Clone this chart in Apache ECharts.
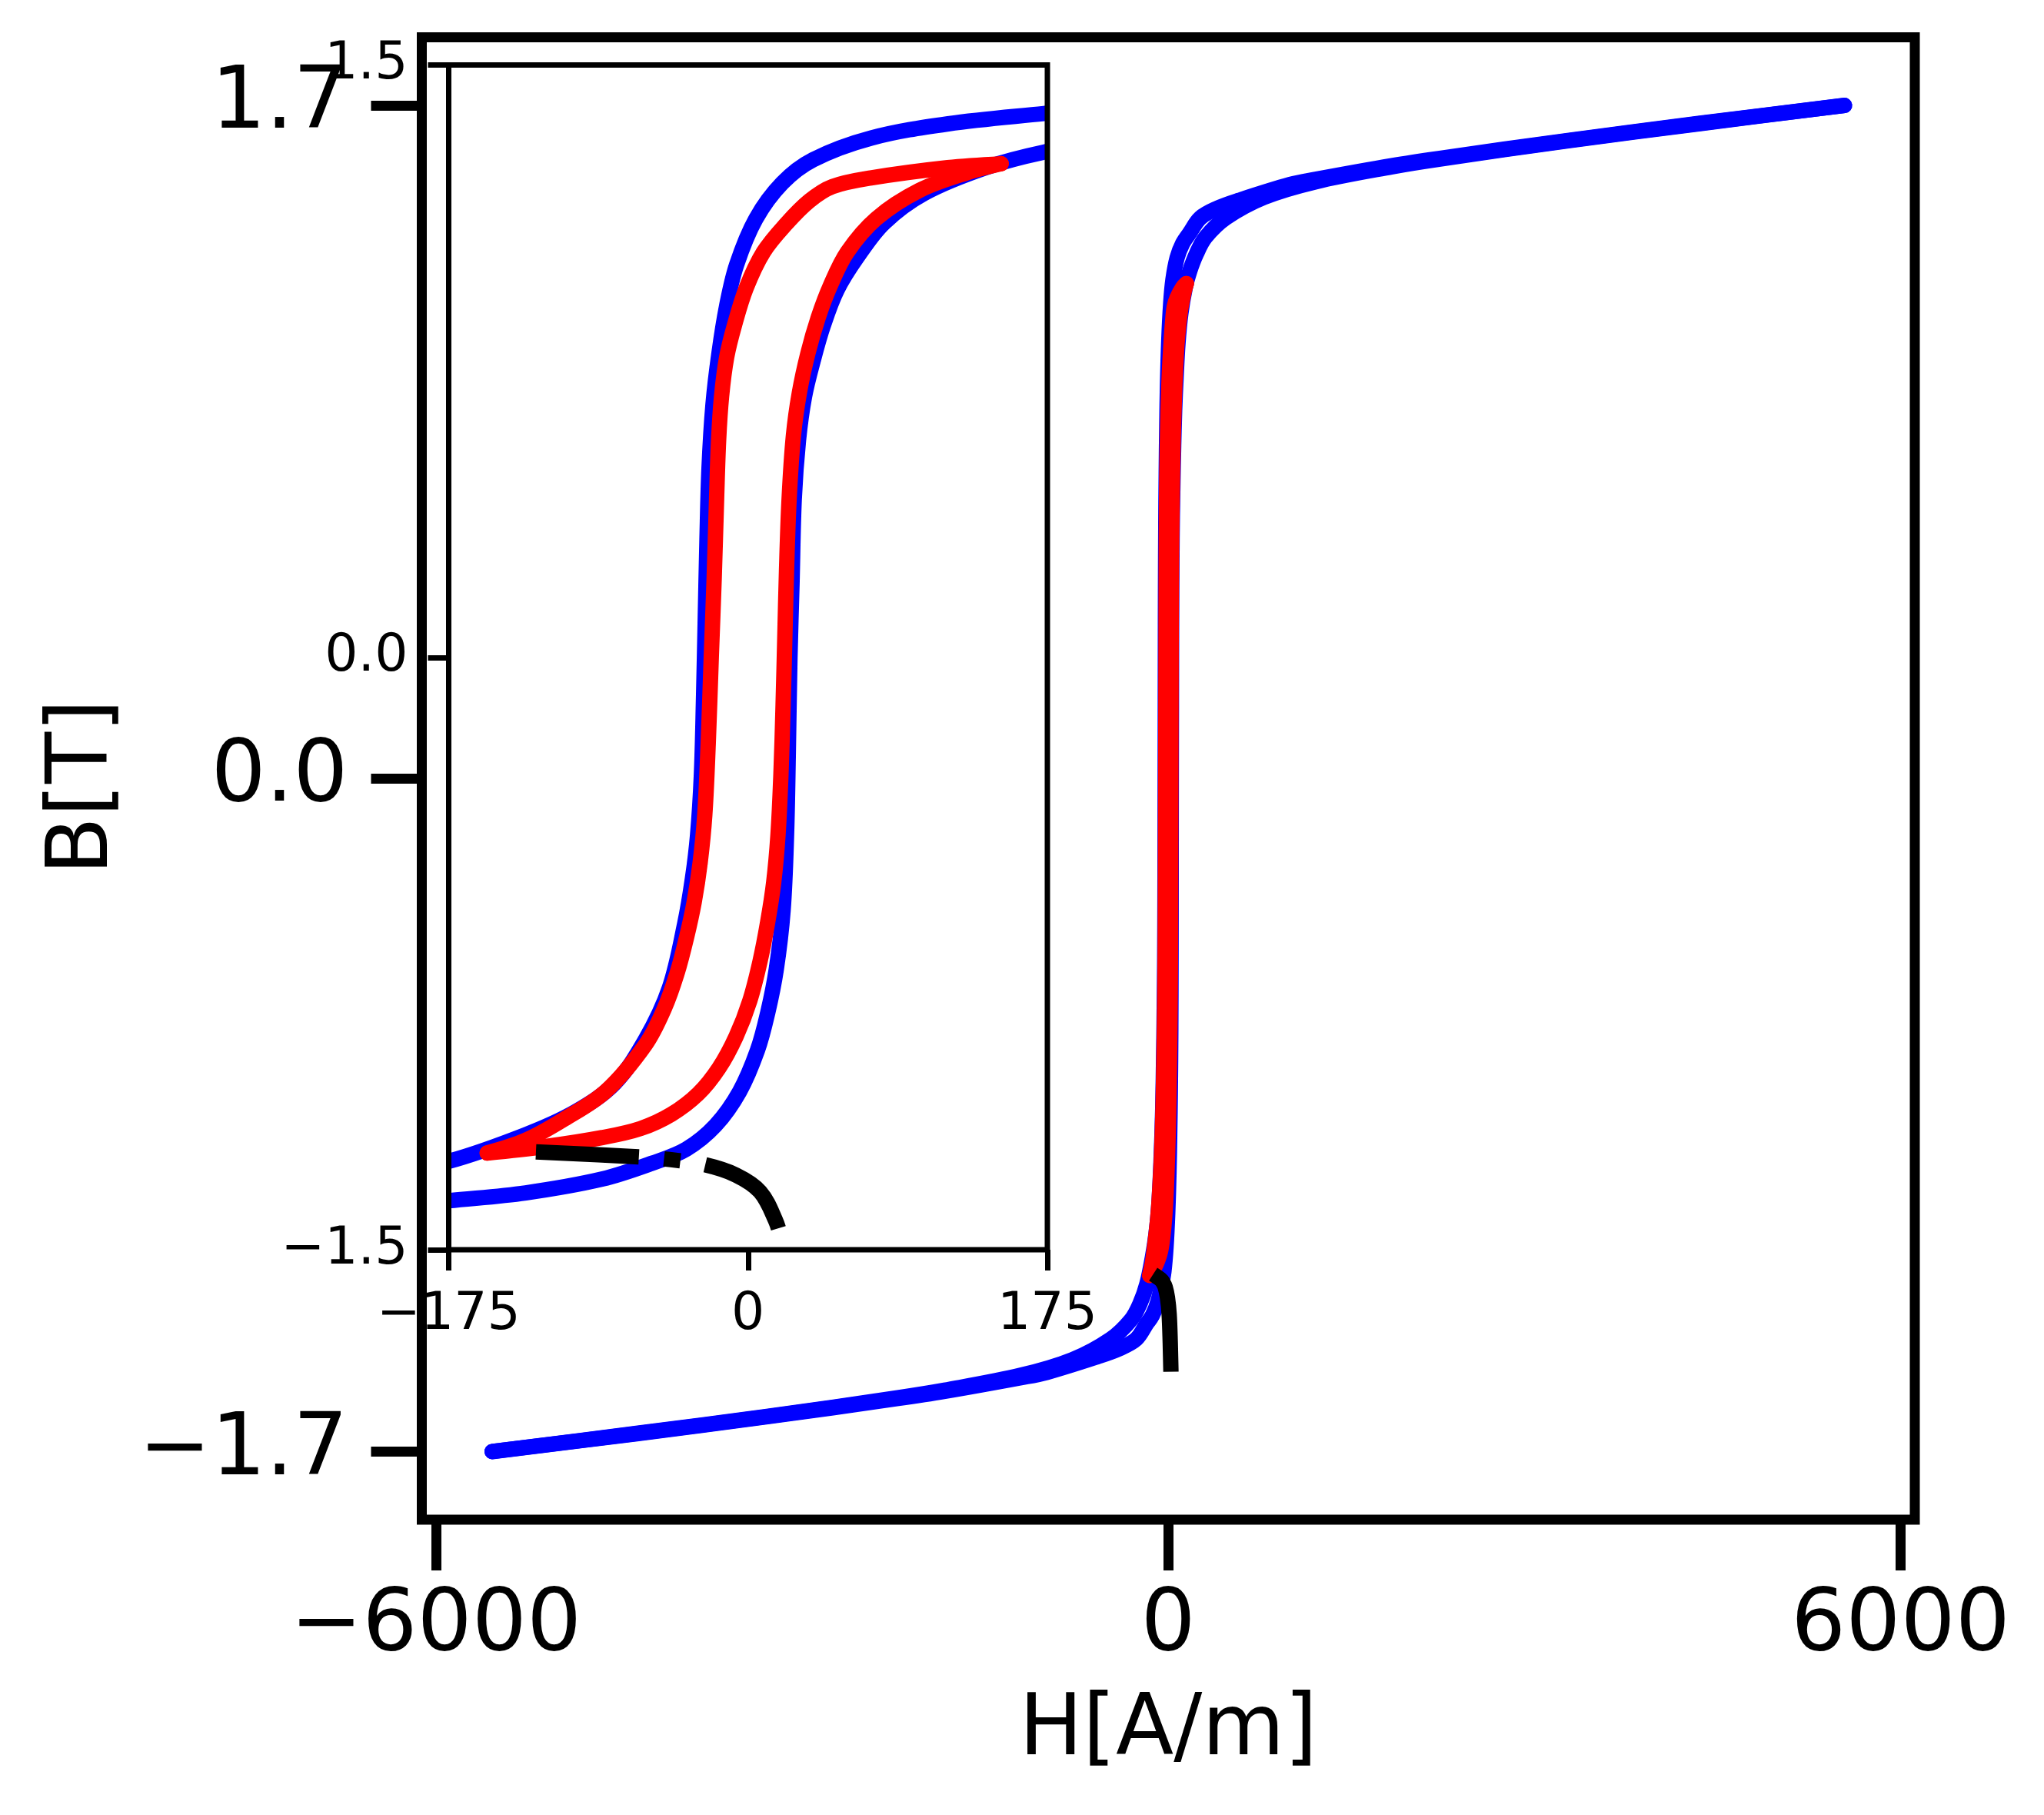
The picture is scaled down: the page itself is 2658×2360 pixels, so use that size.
<!DOCTYPE html>
<html>
<head>
<meta charset="utf-8">
<title>B-H hysteresis</title>
<script src="https://cdn.jsdelivr.net/npm/echarts@6/dist/echarts.min.js"></script>
<style>
html, body { margin: 0; padding: 0; background: #fff; }
#main { width: 2658px; height: 2360px; }
</style>
</head>
<body>
<div id="main"></div>
<script>
// major loop, field going down from +Hmax (upper branch), [H, B]
var blueDown = [
  [5540, 1.700], [4356, 1.655], [3286, 1.612], [2215, 1.566], [1833, 1.548],
  [1200, 1.513], [996, 1.500], [577, 1.460], [400, 1.440], [263, 1.416],
  [173, 1.377], [117, 1.351], [72, 1.315], [38, 1.260], [20, 1.201],
  [4.5, 1.110], [-6.7, 0.994], [-12.5, 0.890], [-17, 0.770], [-20.5, 0.640],
  [-22.8, 0.480], [-24, 0.300], [-25, 0.100], [-26, -0.100], [-27.3, -0.300],
  [-29.5, -0.450], [-32.5, -0.560], [-37, -0.674], [-46, -0.837], [-60, -0.968],
  [-78, -1.079], [-101, -1.151], [-130.1, -1.209], [-175, -1.276], [-230, -1.325],
  [-305, -1.367], [-472, -1.416], [-786, -1.468], [-1205, -1.507], [-1833, -1.545],
  [-2215, -1.564], [-3286, -1.611], [-4356, -1.654], [-5540, -1.700]
];
// major loop, field going up from -Hmax (lower branch)
var blueUp = [
  [-5540, -1.700], [-4356, -1.655], [-3286, -1.612], [-2215, -1.566], [-1833, -1.548],
  [-1200, -1.513], [-996, -1.500], [-577, -1.460], [-400, -1.440], [-263, -1.416],
  [-175, -1.376], [-130, -1.356], [-85.2, -1.321], [-56.1, -1.281], [-36, -1.245],
  [-19, -1.185], [-5, -1.100], [5.5, -0.995], [11.5, -0.900], [16.5, -0.790],
  [20.5, -0.640], [22.5, -0.450], [23.5, -0.250], [24.5, 0.0], [25.7, 0.186],
  [27, 0.400], [29.5, 0.550], [33, 0.660], [38, 0.750], [44, 0.840],
  [52, 0.930], [63.8, 1.013], [79.5, 1.100], [103, 1.175], [139, 1.240],
  [172.7, 1.279], [230, 1.325], [305, 1.367], [472, 1.416], [786, 1.468],
  [1205, 1.507], [1833, 1.545], [2215, 1.564], [3286, 1.611], [4356, 1.654],
  [5540, 1.700]
];
// minor loop
var redDown = [
  [148, 1.250], [116.7, 1.240], [71.8, 1.214], [49.3, 1.192], [35.9, 1.156],
  [22.4, 1.098], [9, 1.026], [-1.1, 0.935], [-8, 0.840], [-12.5, 0.760],
  [-15.5, 0.660], [-17.2, 0.550], [-18.4, 0.400], [-19.8, 0.200], [-21.5, 0.0],
  [-23.3, -0.220], [-25.3, -0.400], [-28, -0.520], [-31.5, -0.620], [-36, -0.710],
  [-41.5, -0.800], [-49, -0.890], [-60, -0.981], [-83, -1.098], [-107.7, -1.170],
  [-130.1, -1.223], [-152.5, -1.255]
];
var redUp = [
  [-152.5, -1.255], [-118.9, -1.239], [-85.2, -1.216], [-62.8, -1.193], [-44.8, -1.157],
  [-29.1, -1.105], [-17, -1.040], [-7, -0.960], [1, -0.870], [7, -0.770],
  [11.5, -0.670], [15, -0.570], [17.5, -0.450], [19.2, -0.300], [20.5, -0.120],
  [21.5, 0.050], [22.5, 0.220], [24, 0.400], [26.5, 0.560], [30, 0.670],
  [35, 0.770], [41, 0.860], [48, 0.940], [58, 1.026], [75, 1.111],
  [100, 1.182], [127.9, 1.227], [148, 1.250]
];
// dash-dot reversal path
var blackPath = [
  [-124, -1.252], [-64, -1.265], [-45, -1.272], [-25, -1.285], [-7, -1.311],
  [7, -1.353], [16, -1.425], [21, -1.490], [25, -1.518], [60, -1.522],
  [100, -1.523], [141, -1.524]
];

var mainXTicks = [-6000, 0, 6000];
var mainXLabels = ['\u22126000', '0', '6000'];
var mainYTicks = [-1.7, 0, 1.7];
var mainYLabels = ['\u22121.7', '0.0', '1.7'];
var insetXTicks = [-175, 0, 175];
var insetXLabels = ['\u2212175', '0', '175'];
var insetYTicks = [-1.5, 0, 1.5];
var insetYLabels = ['\u22121.5', '0.0', '1.5'];

var FONT = 'DejaVu Sans';
var LW = 20;

// inset box in pixels and its data range
var INSET = { left: 583.5, top: 84.5, width: 778.5, height: 1540.5 };
var INSET_X = [-175, 175];
var INSET_Y = [-1.5, 1.5];
// ECharts grows the clip rect by half the line width, so the inset curves
// live on a hidden grid shrunk by that much with the same scale
var padX = LW / 2 * (INSET_X[1] - INSET_X[0]) / INSET.width;
var padY = LW / 2 * (INSET_Y[1] - INSET_Y[0]) / INSET.height;

function pick(ticks, labels) {
  return function (v) {
    for (var i = 0; i < ticks.length; i++) {
      if (Math.abs(ticks[i] - v) < 1e-6) return labels[i];
    }
    return '';
  };
}

function axis(o) {
  return {
    type: 'value',
    gridIndex: o.grid,
    min: o.min,
    max: o.max,
    name: o.name || '',
    nameLocation: 'middle',
    nameGap: o.nameGap || 0,
    nameTextStyle: { fontFamily: FONT, fontSize: 110, color: '#000', padding: o.namePad || 0 },
    axisLine: { show: false, onZero: false },
    splitLine: { show: false },
    axisTick: {
      show: true,
      customValues: o.ticks,
      length: o.tickLen,
      lineStyle: { color: '#000', width: o.tickW }
    },
    axisLabel: {
      show: true,
      customValues: o.ticks,
      margin: o.margin,
      fontFamily: FONT,
      fontSize: o.fontSize,
      color: '#000',
      formatter: pick(o.ticks, o.labels)
    }
  };
}

function hiddenAxis(grid, range, pad) {
  return { type: 'value', gridIndex: grid, min: range[0] + pad, max: range[1] - pad, show: false,
    axisLine: { onZero: false }, splitLine: { show: false } };
}

function line(data, color, ax, z, dashed) {
  return {
    type: 'line',
    xAxisIndex: ax,
    yAxisIndex: ax,
    data: data,
    showSymbol: false,
    symbol: 'none',
    smooth: 0.35,
    z: z,
    lineStyle: {
      color: color,
      width: LW,
      type: dashed ? [134, 33, 21, 33] : 'solid',
      cap: dashed ? 'butt' : 'round',
      join: 'round'
    }
  };
}

var myChart = echarts.init(document.getElementById('main'));

myChart.setOption({
  animation: false,
  backgroundColor: '#fff',
  grid: [
    { left: 548.5, top: 48.5, width: 1941.5, height: 1927.5, show: true,
      borderColor: '#000', borderWidth: 13, z: 20 },
    { left: INSET.left, top: INSET.top, width: INSET.width, height: INSET.height, show: true,
      borderColor: '#000', borderWidth: 7, z: 20 },
    { left: INSET.left + LW / 2, top: INSET.top + LW / 2,
      width: INSET.width - LW, height: INSET.height - LW, show: false }
  ],
  xAxis: [
    axis({ grid: 0, min: -6116, max: 6116, ticks: mainXTicks, labels: mainXLabels,
      tickLen: 66, tickW: 13, margin: 84, fontSize: 112, name: 'H[A/m]', nameGap: 221 }),
    axis({ grid: 1, min: INSET_X[0], max: INSET_X[1], ticks: insetXTicks, labels: insetXLabels,
      tickLen: 27, tickW: 7, margin: 51, fontSize: 68 }),
    hiddenAxis(2, INSET_X, padX)
  ],
  yAxis: [
    axis({ grid: 0, min: -1.872, max: 1.872, ticks: mainYTicks, labels: mainYLabels,
      tickLen: 66, tickW: 13, margin: 96, fontSize: 112, name: 'B[T]', nameGap: 383,
      namePad: [0, 22, 0, 0] }),
    axis({ grid: 1, min: INSET_Y[0], max: INSET_Y[1], ticks: insetYTicks, labels: insetYLabels,
      tickLen: 27, tickW: 7, margin: 53, fontSize: 68 }),
    hiddenAxis(2, INSET_Y, padY)
  ],
  series: [
    line(blueDown, '#0000ff', 0, 2, false),
    line(blueUp, '#0000ff', 0, 2, false),
    line(redDown, '#ff0000', 0, 3, false),
    line(redUp, '#ff0000', 0, 3, false),
    line(blackPath, '#000000', 0, 4, true),
    line(blueDown, '#0000ff', 2, 5, false),
    line(blueUp, '#0000ff', 2, 5, false),
    line(redDown, '#ff0000', 2, 6, false),
    line(redUp, '#ff0000', 2, 6, false),
    line(blackPath, '#000000', 2, 7, true)
  ]
});
</script>
</body>
</html>
